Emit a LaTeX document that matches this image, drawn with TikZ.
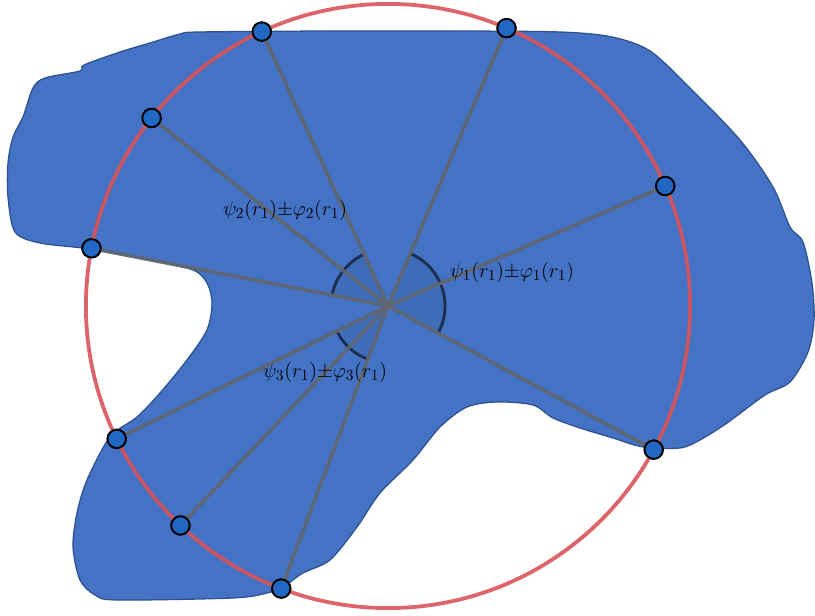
\documentclass[tikz,border=0pt]{standalone}
\usetikzlibrary{calc}
\definecolor{BlobBlue}{HTML}{4472C4}
\definecolor{BlobEdge}{HTML}{2F528F}
\definecolor{SecBlue}{HTML}{3E6CB8}
\definecolor{ArcNavy}{HTML}{1C2E4F}
\definecolor{CircRed}{HTML}{D9535A}
\definecolor{RayGray}{HTML}{606670}
\definecolor{DotBlue}{HTML}{2068C4}

\begin{document}
\begin{tikzpicture}[
    x=0.025cm, y=0.025cm,
    blob/.style={fill=BlobBlue, draw=BlobEdge, line width=0.9pt},
    sector/.style={fill=SecBlue},
    anglearc/.style={draw=ArcNavy, line width=2pt},
    ray/.style={draw=RayGray, line width=2.6pt, opacity=0.9},
    bigcirc/.style={draw=CircRed, line width=2.7pt, opacity=0.9},
    ptdot/.style={circle, fill=DotBlue, draw=black, line width=1.3pt, minimum size=0.46cm, inner sep=0pt},
    lbl/.style={font=\fontsize{15}{18}\selectfont, inner sep=1pt}
]
  \useasboundingbox (0,0) rectangle (815,616);

  % -------------------------------------------------------------
  % REGION (blob)
  % -------------------------------------------------------------
  \path[blob] plot[smooth cycle, tension=0.5] coordinates {
    (200,584) (330,585) (450,585) (560,584) (612,579) (650,565) (690,528)
    (740,476) (773,429) (790,389) (803,374) (812,333) (814,296) (808,264)
    (790,234) (765,221) (727,193) (700,176) (680,168) (643,169) (613,178)
    (580,188) (553,198) (533,211) (497,214) (467,209) (440,189) (413,156)
    (380,123) (357,89) (330,56) (303,43) (283,29) (267,23) (233,18)
    (117,16) (95,21) (80,36) (73,69) (77,103) (87,136) (110,179) (137,199)
    (160,223) (187,256) (207,286) (212,313) (207,333) (193,346) (150,356)
    (90,367) (40,373) (15,384) (8,419) (8,453) (13,479) (23,499) (33,528)
    (45,538) (80,545) (84,551) (120,564) (150,573) (180,582)
  };

  % centre of the circle
  \coordinate (O) at (388,310);

  % -------------------------------------------------------------
  % ANGLE SECTORS
  % -------------------------------------------------------------
  \fill[sector] (O) -- ($(O)+(-28.4:1.425cm)$) arc[start angle=-28.4, end angle=66.9, radius=1.425cm] -- cycle;
  \fill[sector] (O) -- ($(O)+(114.7:1.425cm)$) arc[start angle=114.7, end angle=169, radius=1.425cm] -- cycle;
  \fill[sector] (O) -- ($(O)+(206.1:1.425cm)$) arc[start angle=206.1, end angle=249.3, radius=1.425cm] -- cycle;
  \draw[anglearc] ($(O)+(-28.4:1.425cm)$) arc[start angle=-28.4, end angle=66.9, radius=1.425cm];
  \draw[anglearc] ($(O)+(114.7:1.425cm)$) arc[start angle=114.7, end angle=169, radius=1.425cm];
  \draw[anglearc] ($(O)+(206.1:1.425cm)$) arc[start angle=206.1, end angle=249.3, radius=1.425cm];

  % -------------------------------------------------------------
  % POINTS ON THE CIRCLE
  % -------------------------------------------------------------
  \node[ptdot] (p1) at ($(O)+(114.7:7.55cm)$) {};
  \node[ptdot] (p2) at ($(O)+(66.9:7.55cm)$) {};
  \node[ptdot] (p3) at ($(O)+(141.5:7.55cm)$) {};
  \node[ptdot] (p4) at ($(O)+(23.4:7.55cm)$) {};
  \node[ptdot] (p5) at ($(O)+(169:7.55cm)$) {};
  \node[ptdot] (p6) at ($(O)+(206.1:7.55cm)$) {};
  \node[ptdot] (p7) at ($(O)+(226.6:7.55cm)$) {};
  \node[ptdot] (p8) at ($(O)+(249.3:7.55cm)$) {};
  \node[ptdot] (p9) at ($(O)+(-28.4:7.55cm)$) {};

  % rays
  \draw[ray] (O) -- (p1.center);
  \draw[ray] (O) -- (p2.center);
  \draw[ray] (O) -- (p3.center);
  \draw[ray] (O) -- (p4.center);
  \draw[ray] (O) -- (p5.center);
  \draw[ray] (O) -- (p6.center);
  \draw[ray] (O) -- (p7.center);
  \draw[ray] (O) -- (p8.center);
  \draw[ray] (O) -- (p9.center);

  % circle
  \draw[bigcirc] (O) circle[radius=7.55cm];

  % dots on top
  \node[ptdot] at (p1) {};
  \node[ptdot] at (p2) {};
  \node[ptdot] at (p3) {};
  \node[ptdot] at (p4) {};
  \node[ptdot] at (p5) {};
  \node[ptdot] at (p6) {};
  \node[ptdot] at (p7) {};
  \node[ptdot] at (p8) {};
  \node[ptdot] at (p9) {};

  % -------------------------------------------------------------
  % LABELS
  % -------------------------------------------------------------
  \node[lbl] (lblone) at (512,344) {$\psi_1(r_1){\pm}\varphi_1(r_1)$};
  \node[lbl] (lbltwo) at (285,406) {$\psi_2(r_1){\pm}\varphi_2(r_1)$};
  \node[lbl] (lblthree) at (325,244) {$\psi_3(r_1){\pm}\varphi_3(r_1)$};

\end{tikzpicture}
\end{document}
